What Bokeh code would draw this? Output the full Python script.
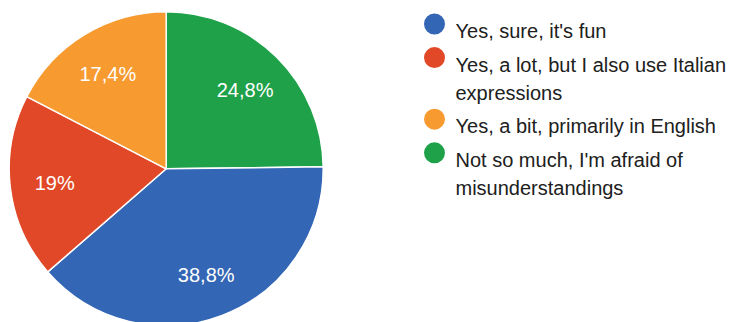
import math
from bokeh.plotting import figure
from bokeh.models import Range1d, ColumnDataSource
from bokeh.core.properties import value
from bokeh.embed import file_html
from bokeh.resources import INLINE

# ---- data ----
categories = [
    "Yes, sure, it's fun",
    "Yes, a lot, but I also use Italian expressions",
    "Yes, a bit, primarily in English",
    "Not so much, I'm afraid of misunderstandings",
]
legend_lines = [
    ["Yes, sure, it's fun"],
    ["Yes, a lot, but I also use Italian", "expressions"],
    ["Yes, a bit, primarily in English"],
    ["Not so much, I'm afraid of", "misunderstandings"],
]
percents = [38.8, 19.0, 17.4, 24.8]
colors = ["#3366b4", "#e14827", "#f79a2f", "#1fa14a"]

# ---- layout ----
W, H = 739, 322
cx, cy = 165.7, H - 168.3
R = 157.0
FONT = "Liberation Sans"

p = figure(width=W, height=H, x_range=Range1d(0, W), y_range=Range1d(0, H),
           output_backend="svg", toolbar_location=None, min_border=0)
p.axis.visible = False
p.grid.visible = False
p.outline_line_color = None
p.background_fill_color = "white"
p.border_fill_color = "white"

# slices clockwise from 12 o'clock; last category drawn first
order = [3, 0, 1, 2]
total = sum(percents)
starts, ends, lx, ly, labels, cols = [], [], [], [], [], []
acc = 0.0
for i in order:
    a0 = math.pi / 2 - 2 * math.pi * acc / total
    acc += percents[i]
    a1 = math.pi / 2 - 2 * math.pi * acc / total
    starts.append(a0)
    ends.append(a1)
    cols.append(colors[i])
    mid = (a0 + a1) / 2
    lx.append(cx + 0.715 * R * math.cos(mid))
    ly.append(cy + 0.715 * R * math.sin(mid))
    labels.append(f"{percents[i]:g}".replace(".", ",") + "%")

src = ColumnDataSource(dict(s=starts, e=ends, c=cols))
p.wedge(x=cx, y=cy, radius=R, start_angle="s", end_angle="e", direction="clock",
        fill_color="c", line_color="white", line_width=1.5, source=src)

p.text(x=lx, y=[v - 1 for v in ly], text=labels, text_color="white",
       text_font=value(FONT), text_font_size="20px",
       text_align="center", text_baseline="middle")

# ---- legend ----
first_base = 30.7
item_gap = 33.6
wrap_gap = 28.0
tx, ty, tt = [], [], []
mx, my = [], []
yb = first_base
for lines in legend_lines:
    mx.append(434)
    my.append(H - (yb - 7.2))
    for k, line in enumerate(lines):
        tx.append(455)
        ty.append(H - yb)
        tt.append(line)
        if k < len(lines) - 1:
            yb += wrap_gap
    yb += item_gap

p.scatter(x=mx, y=my, size=21, marker="circle", fill_color=colors, line_color=None)
p.text(x=tx, y=ty, text=tt, text_color="#202020", text_font=value(FONT),
       text_font_size="20px", text_align="left", text_baseline="alphabetic")

open("out.html", "w").write(file_html(p, INLINE))
